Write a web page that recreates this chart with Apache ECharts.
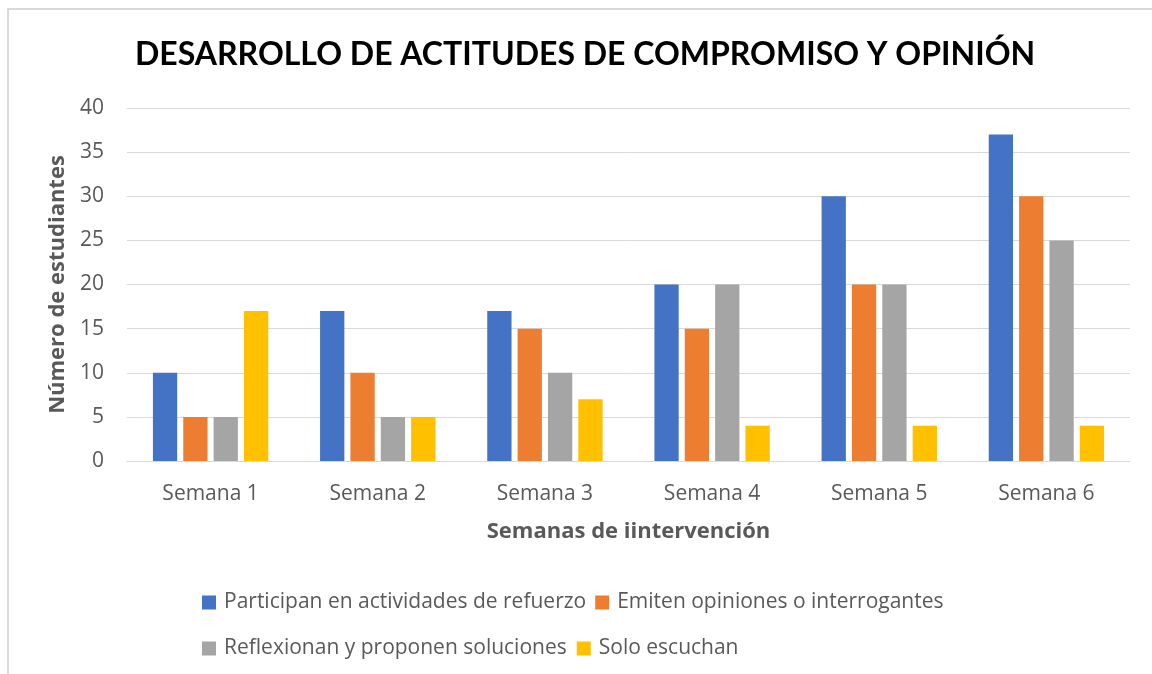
<!DOCTYPE html>
<html>
<head>
<meta charset="utf-8">
<script src="https://cdn.jsdelivr.net/npm/echarts@6/dist/echarts.min.js"></script>
<style>
  html, body { margin: 0; padding: 0; background: #fff; }
  #chart { width: 1152px; height: 674px; }
</style>
</head>
<body>
<div id="chart"></div>
<script>
// data
var weeks = ['Semana 1', 'Semana 2', 'Semana 3', 'Semana 4', 'Semana 5', 'Semana 6'];
var participan = [10, 17, 17, 20, 30, 37];
var emiten = [5, 10, 15, 15, 20, 30];
var reflexionan = [5, 5, 10, 20, 20, 25];
var escuchan = [17, 5, 7, 4, 4, 4];
var seriesNames = [
  'Participan en actividades de refuerzo',
  'Emiten opiniones o interrogantes',
  'Reflexionan y proponen soluciones',
  'Solo escuchan'
];
var colors = ['#4472C4', '#ED7D31', '#A5A5A5', '#FFC000'];

var titleFont = 'Lato, sans-serif';
var font = '"Open Sans", sans-serif';

var myChart = echarts.init(document.getElementById('chart'));

function bar(name, data, i) {
  return {
    name: name,
    type: 'bar',
    data: data,
    barGap: '25%',
    barCategoryGap: '31%',
    itemStyle: { color: colors[i] }
  };
}

var legendText = { fontFamily: font, fontSize: 21, color: '#595959', padding: [0, 0, 0, 3] };

var option = {
  animation: false,
  textStyle: { fontFamily: font },
  title: {
    text: 'DESARROLLO DE ACTITUDES DE COMPROMISO Y OPINIÓN',
    left: 130,
    top: 34,
    textStyle: { fontFamily: titleFont, fontSize: 32, fontWeight: 'bold', color: '#000' }
  },
  graphic: [{
    type: 'rect',
    shape: { x: 8, y: 9, width: 1170, height: 700 },
    style: { fill: 'none', stroke: '#d9d9d9', lineWidth: 2 },
    silent: true
  }],
  legend: [{
    data: seriesNames.slice(0, 2),
    left: 197,
    top: 587,
    itemWidth: 14,
    itemHeight: 14,
    itemGap: 9,
    icon: 'rect',
    textStyle: legendText
  }, {
    data: seriesNames.slice(2),
    left: 197,
    top: 633,
    itemWidth: 14,
    itemHeight: 14,
    itemGap: 10,
    icon: 'rect',
    textStyle: legendText
  }],
  grid: { left: 127, right: 22, top: 108, bottom: 213, containLabel: false },
  xAxis: {
    type: 'category',
    data: weeks,
    name: 'Semanas de iintervención',
    nameLocation: 'middle',
    nameGap: 60,
    nameTextStyle: { fontFamily: font, fontSize: 22, fontWeight: 'bold', color: '#595959' },
    axisTick: { show: false },
    axisLine: { lineStyle: { color: '#d9d9d9', width: 1 } },
    axisLabel: { fontFamily: font, fontSize: 21, color: '#595959', margin: 23 }
  },
  yAxis: {
    type: 'value',
    min: 0,
    max: 40,
    interval: 5,
    name: 'Número de estudiantes',
    nameLocation: 'middle',
    nameGap: 51,
    nameTextStyle: { fontFamily: font, fontSize: 22, fontWeight: 'bold', color: '#595959' },
    axisLine: { show: false },
    axisTick: { show: false },
    axisLabel: { fontFamily: font, fontSize: 21, color: '#595959', margin: 23 },
    splitLine: { lineStyle: { color: '#d9d9d9', width: 1 } }
  },
  series: [
    bar(seriesNames[0], participan, 0),
    bar(seriesNames[1], emiten, 1),
    bar(seriesNames[2], reflexionan, 2),
    bar(seriesNames[3], escuchan, 3)
  ]
};

myChart.setOption(option);
</script>
</body>
</html>
